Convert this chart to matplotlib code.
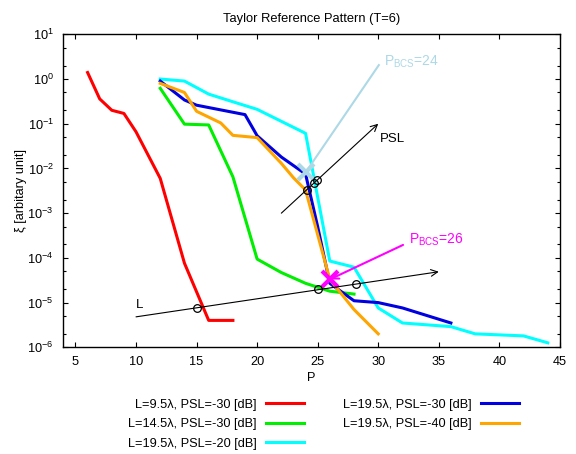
import matplotlib.pyplot as plt
from matplotlib.ticker import LogLocator, NullFormatter

plt.rcParams['font.family'] = ['Liberation Sans', 'DejaVu Sans']
plt.rcParams['mathtext.fontset'] = 'custom'
plt.rcParams['mathtext.rm'] = 'Liberation Sans'
plt.rcParams['mathtext.it'] = 'Liberation Sans:italic'
plt.rcParams['font.size'] = 9.2

# L=9.5 lambda, PSL=-30 dB
p_red = [6, 7, 8, 9, 10, 12, 14, 16, 17, 18]
xi_red = [1.4, 0.36, 0.2, 0.17, 0.066, 0.006, 7.6e-5, 4e-6, 4e-6, 4e-6]

# L=14.5 lambda, PSL=-30 dB
p_green = [12, 14, 16, 18, 20, 22, 24, 26, 28]
xi_green = [0.62, 0.098, 0.094, 0.0065, 9.4e-5, 4.7e-5, 2.7e-5, 1.8e-5, 1.55e-5]

# L=19.5 lambda, PSL=-20 dB
p_cyan = [12, 14, 16, 18, 20, 24, 26, 28, 30, 32, 36, 38, 42, 44]
xi_cyan = [1.0, 0.9, 0.46, 0.31, 0.21, 0.061, 8.5e-5, 6.2e-5, 7.6e-6, 3.5e-6,
           2.9e-6, 2.0e-6, 1.8e-6, 1.26e-6]

# L=19.5 lambda, PSL=-30 dB
p_blue = [12, 14, 15, 19, 20, 22, 24, 25, 26, 28, 30, 32, 36]
xi_blue = [0.9, 0.34, 0.26, 0.16, 0.054, 0.018, 0.0075, 5e-4, 2.7e-5, 1.1e-5,
           1e-5, 7.6e-6, 3.5e-6]

# L=19.5 lambda, PSL=-40 dB
p_orange = [12, 14, 15, 17, 18, 20, 22, 23, 24, 26, 28, 30]
xi_orange = [0.8, 0.5, 0.19, 0.104, 0.055, 0.049, 0.013, 0.0062, 0.0033,
             3.3e-5, 7e-6, 2e-6]

# guide arrows and the points where they cross the curves
psl_start = (22, 1e-3)
psl_end = (30, 0.1)
psl_p = [24.1, 24.7, 24.95]
psl_xi = [3.35e-3, 4.7e-3, 5.5e-3]

len_start = (10, 4.8e-6)
len_end = (35, 4.9e-5)
len_p = [15, 25.05, 28.2]
len_xi = [7.6e-6, 2.0e-5, 2.6e-5]

bcs24 = (24.05, 8.5e-3)
bcs24_text = (30.05, 2.05)
bcs26 = (26, 3.3e-5)
bcs26_text = (32.05, 1.95e-4)

fig = plt.figure(figsize=(5.76, 4.54), dpi=100)
ax = fig.add_axes([0.110, 0.235, 0.862, 0.6894])

lw = 2.2
ax.plot(p_red, xi_red, color='#ff0000', lw=lw, label='L=9.5λ, PSL=-30 [dB]')
ax.plot(p_green, xi_green, color='#00ee00', lw=lw, label='L=14.5λ, PSL=-30 [dB]')
ax.plot(p_cyan, xi_cyan, color='#00ffff', lw=lw, label='L=19.5λ, PSL=-20 [dB]')
ax.plot(p_blue, xi_blue, color='#0000e0', lw=lw, label='L=19.5λ, PSL=-30 [dB]')
ax.plot(p_orange, xi_orange, color='#ffa500', lw=lw, label='L=19.5λ, PSL=-40 [dB]')

# P_BCS markers
ax.plot([bcs24[0], bcs24_text[0]], [bcs24[1], bcs24_text[1]], color='#add8e6', lw=1.5)
ax.plot(*bcs24, marker='x', ms=11, mew=3, color='#add8e6')
ax.text(30.5, 1.95, r'P$_\mathregular{BCS}$=24', color='#add8e6', fontsize=10,
        va='baseline')

ax.annotate('', xy=bcs26, xytext=bcs26_text,
            arrowprops=dict(arrowstyle='->', color='#ff00ff', lw=1.5,
                            mutation_scale=12, shrinkA=0, shrinkB=0))
ax.plot(*bcs26, marker='x', ms=11, mew=3, color='#ff00ff')
ax.text(32.57, 2.1e-4, r'P$_\mathregular{BCS}$=26', color='#ff00ff', fontsize=10,
        va='baseline')

# PSL and L arrows
for start, end in [(psl_start, psl_end), (len_start, len_end)]:
    ax.annotate('', xy=end, xytext=start,
                arrowprops=dict(arrowstyle='->', color='black', lw=0.8,
                                mutation_scale=12, shrinkA=0, shrinkB=0))
ax.plot(psl_p, psl_xi, 'o', ms=5.5, mfc='none', mec='black', mew=0.9)
ax.plot(len_p, len_xi, 'o', ms=5.5, mfc='none', mec='black', mew=0.9)
ax.text(30.1, 0.04, 'PSL', fontsize=9.5, va='baseline')
ax.text(10.0, 7.4e-6, 'L', fontsize=9.5, va='baseline')

ax.set_yscale('log')
ax.set_xlim(4, 45)
ax.set_ylim(1e-6, 10)
ax.set_xticks(range(5, 46, 5))
ax.yaxis.set_major_locator(LogLocator(base=10, numticks=10))
ax.yaxis.set_minor_locator(LogLocator(base=10, subs=(2, 5), numticks=10))
ax.yaxis.set_minor_formatter(NullFormatter())
ax.tick_params(which='both', direction='in', top=True, right=True, width=0.8)
ax.tick_params(which='major', length=3.5)
ax.tick_params(which='minor', length=2)
ax.tick_params(axis='y', pad=7)
ax.tick_params(axis='x', pad=6)
for s in ax.spines.values():
    s.set_linewidth(1.0)

ax.set_title('Taylor Reference Pattern (T=6)', fontsize=9.3, pad=9)
ax.set_xlabel('P', labelpad=3)
ax.set_ylabel('ξ [arbitary unit]', labelpad=0)

fig.legend(loc='upper center', bbox_to_anchor=(0.5616, 0.122), ncol=2,
           frameon=False, markerfirst=False, handlelength=3.0,
           handletextpad=0.75, columnspacing=3.0, labelspacing=0.6,
           borderaxespad=0, borderpad=0)

fig.savefig('out.png', dpi=100)
